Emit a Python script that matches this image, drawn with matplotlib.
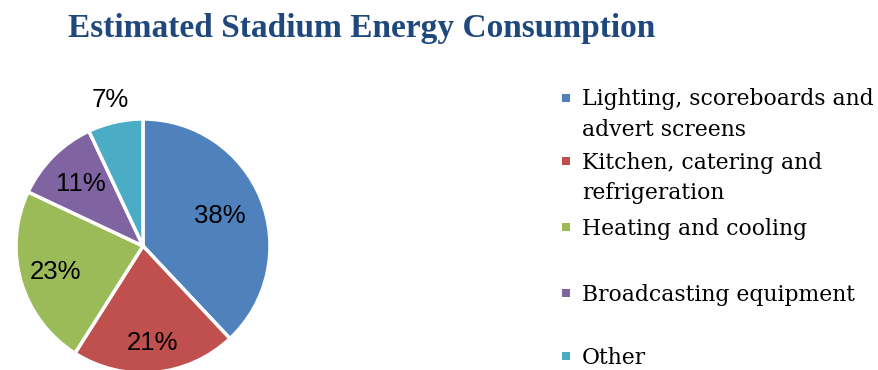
import matplotlib
matplotlib.use("Agg")
import matplotlib.pyplot as plt
from matplotlib.patches import Rectangle
import numpy as np

title = "Estimated Stadium Energy Consumption"
categories = ["Lighting, scoreboards and\nadvert screens",
              "Kitchen, catering and\nrefrigeration",
              "Heating and cooling",
              "Broadcasting equipment",
              "Other"]
values = [38, 21, 23, 11, 7]
colors = ["#4F81BD", "#C0504D", "#9BBB59", "#8064A2", "#4BACC6"]

W, H = 879, 370
fig = plt.figure(figsize=(W / 100, H / 100), dpi=100)
fig.patch.set_facecolor("white")
renderer = fig.canvas.get_renderer()


def fit(text_obj, target_px):
    bb = text_obj.get_window_extent(renderer=renderer)
    text_obj.set_fontsize(text_obj.get_fontsize() * target_px / bb.width)


# pie axes: center (143,246) px, radius 127 px
cx, cy, r = 143, 246, 127
ax = fig.add_axes([(cx - r) / W, (H - cy - r) / H, 2 * r / W, 2 * r / H])
wedges, texts, autotexts = ax.pie(
    values, colors=colors, startangle=90, counterclock=False, radius=1,
    autopct="%d%%", pctdistance=0.72,
    wedgeprops=dict(edgecolor="white", linewidth=2.5),
    textprops=dict(fontsize=18.5, family="Liberation Sans", color="black"))
ax.set_xlim(-1, 1)
ax.set_ylim(-1, 1)
ax.axis("off")
for w in wedges:
    w.set_clip_on(False)

label_dist = [0.65, 0.77, 0.72, 0.69, 1.18]
cum = np.cumsum([0] + values[:-1])
total = sum(values)
for t, c, v, d in zip(autotexts, cum, values, label_dist):
    ang = np.deg2rad(90 - 360 * (c + v / 2) / total)
    t.set_position((d * np.cos(ang), d * np.sin(ang)))
    t.set_clip_on(False)

# title
tt = fig.text(362 / W, 1 - 28 / H, title, ha="center", va="center",
              fontsize=22, fontweight="bold", color="#1F497D",
              family="Liberation Serif")
fit(tt, 587)

# legend
legend_y = [98, 161, 227, 293, 356]
for i, (lab, col, y) in enumerate(zip(categories, colors, legend_y)):
    fig.patches.append(Rectangle(((566 - 4) / W, 1 - (y + 4) / H), 8 / W, 8 / H,
                                 transform=fig.transFigure, facecolor=col,
                                 edgecolor="none"))
    t = fig.text(582 / W, 1 - (y - 1) / H, lab.split("\n")[0], ha="left",
                 va="center_baseline", fontsize=16, family="DejaVu Serif",
                 color="black")
    if i == 0:
        fit(t, 292)
        fs = t.get_fontsize()
    else:
        t.set_fontsize(fs)
    if "\n" in lab:
        fig.text(582 / W, 1 - (y + 30) / H, lab.split("\n")[1], ha="left",
                 va="center_baseline", fontsize=fs, family="DejaVu Serif",
                 color="black")

fig.savefig("out.png", dpi=100)
